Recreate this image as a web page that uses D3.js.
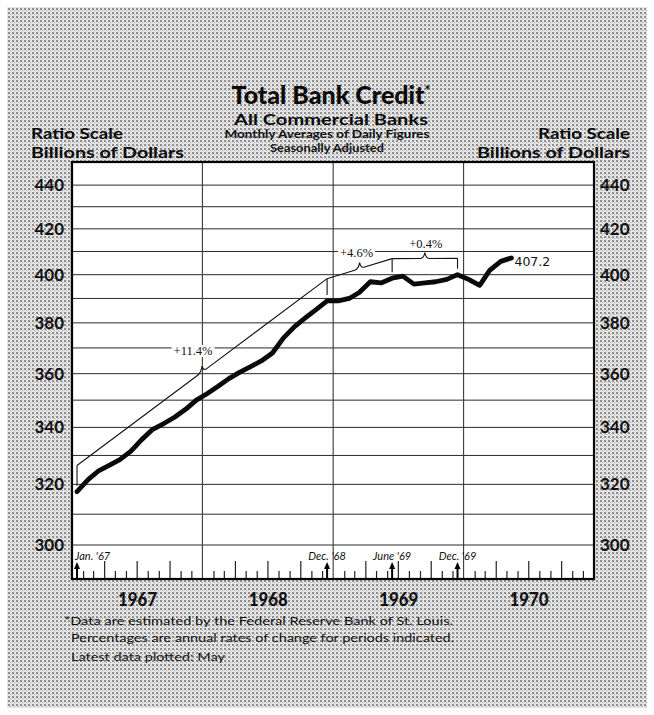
<!DOCTYPE html>
<html>
<head>
<meta charset="utf-8">
<script src="https://cdn.jsdelivr.net/npm/d3@7/dist/d3.min.js"></script>
<style>
html,body{margin:0;padding:0;background:#ffffff;}
svg{display:block;}
</style>
</head>
<body>
<svg id="chart" width="654" height="715"></svg>
<script>
// ---------------- data ----------------
const years = [1967, 1968, 1969, 1970];
const credit1967 = [317.5, 321.6, 324.5, 326.5, 328.5, 331.5, 335.6, 339.3, 341.4, 343.7, 346.6, 350.0];
const credit1968 = [352.5, 355.3, 358.1, 360.6, 362.7, 365.0, 368.0, 374.0, 378.5, 382.0, 385.5, 389.0];
const credit1969 = [389.0, 390.0, 392.5, 397.0, 396.5, 398.5, 399.4, 396.0, 396.5, 397.0, 398.0, 400.0];
const credit1970 = [398.0, 395.5, 401.8, 405.7, 407.2];

const gridValues = [300, 310, 320, 330, 340, 350, 360, 370, 380, 390, 400, 410, 420, 430, 440];
const axisTickValues = [300, 320, 340, 360, 380, 400, 420, 440];
const yearLabels = ["1967", "1968", "1969", "1970"];

const markerLabels = ["Jan. '67", "Dec. '68", "June '69", "Dec. '69"];
const markerMonths = ["1967-01", "1968-12", "1969-06", "1969-12"];

const rateLabels = ["+11.4%", "+4.6%", "+0.4%"];
const rateFrom = ["1967-01", "1968-12", "1969-06"];
const rateTo = ["1968-12", "1969-06", "1969-12"];
const rateLevelStart = [326.5, 398.3, 406.9];
const rateLevelEnd = [398.3, 406.9, 407.0];

const latestLabel = "407.2";

const titleText = "Total Bank Credit";
const titleMark = "*";
const subtitleText = "All Commercial Banks";
const noteLines = ["Monthly Averages of Daily Figures", "Seasonally Adjusted"];
const scaleLines = ["Ratio Scale", "Billions of Dollars"];
const footnotes = [
  "*Data are estimated by the Federal Reserve Bank of St. Louis.",
  "Percentages are annual rates of change for periods indicated.",
  "Latest data plotted: May"
];

// ---------------- layout ----------------
const W = 654, H = 715;
const P = {left: 72, right: 594, top: 162, bottom: 579, base: 545, max: 164};
const FONT = "Lato, 'DejaVu Sans', sans-serif";

const svg = d3.select("#chart");
const defs = svg.append("defs");
const pat = defs.append("pattern").attr("id", "ht")
  .attr("width", 4).attr("height", 4).attr("patternUnits", "userSpaceOnUse");
pat.append("rect").attr("width", 4).attr("height", 4).attr("fill", "#e4e4e4");
pat.append("rect").attr("x", 0).attr("y", 0).attr("width", 2).attr("height", 2).attr("fill", "#909090");
pat.append("rect").attr("x", 2).attr("y", 2).attr("width", 1).attr("height", 1).attr("fill", "#a8a8a8");

svg.append("rect").attr("width", W).attr("height", H).attr("fill", "#ffffff");
svg.append("rect").attr("x", 7).attr("y", 7).attr("width", 640).attr("height", 701).attr("fill", "url(#ht)");

// scales
const x = d3.scaleTime().domain([new Date(1967, 0, 1), new Date(1971, 0, 1)]).range([P.left, P.right]);
const y = d3.scaleLog().domain([300, 450]).range([P.base, P.max]);

const series = [credit1967, credit1968, credit1969, credit1970];
const data = series.flatMap((vals, k) => vals.map((v, i) => ({date: new Date(years[k], i, 15), value: v})));
const parseMonth = s => { const [yy, mm] = s.split("-").map(Number); return new Date(yy, mm - 1, 15); };
const valueAt = s => { const d = parseMonth(s); return data.find(p => +p.date === +d).value; };

// plot area
svg.append("rect").attr("x", P.left).attr("y", P.top)
  .attr("width", P.right - P.left).attr("height", P.bottom - P.top).attr("fill", "#ffffff");

// horizontal grid
svg.append("g").selectAll("line").data(gridValues).join("line")
  .attr("x1", P.left).attr("x2", P.right)
  .attr("y1", d => y(d)).attr("y2", d => y(d))
  .attr("stroke", "#2a2a2a").attr("stroke-width", 1);

// year division lines
svg.append("g").selectAll("line").data(years.slice(1)).join("line")
  .attr("x1", d => x(new Date(d, 0, 1))).attr("x2", d => x(new Date(d, 0, 1)))
  .attr("y1", P.top).attr("y2", P.bottom)
  .attr("stroke", "#3a3a3a").attr("stroke-width", 1.1);

// month ticks on bottom
const monthBounds = d3.timeMonth.range(new Date(1967, 1, 1), new Date(1971, 0, 1)).filter(d => d.getMonth() !== 0);
const shortTicks = monthBounds.filter(d => d.getMonth() % 3 !== 0);
const longTicks = monthBounds.filter(d => d.getMonth() % 3 === 0);
const gShort = svg.append("g").attr("transform", `translate(0,${P.bottom})`)
  .call(d3.axisBottom(x).tickValues(shortTicks).tickSize(-8).tickFormat(""));
const gLong = svg.append("g").attr("transform", `translate(0,${P.bottom})`)
  .call(d3.axisBottom(x).tickValues(longTicks).tickSize(-18).tickFormat(""));
[gShort, gLong].forEach(g => {
  g.select(".domain").remove();
  g.selectAll(".tick line").attr("stroke", "#222").attr("stroke-width", 1.2);
});

// year labels
const gYears = svg.append("g").attr("transform", `translate(0,${P.bottom})`)
  .call(d3.axisBottom(x).tickValues(years.map(yy => new Date(yy, 6, 2))).tickSize(0).tickPadding(13.5)
    .tickFormat((d, i) => yearLabels[i]));
gYears.select(".domain").remove();
gYears.selectAll("text").attr("font-family", FONT).attr("font-weight", 900)
  .attr("font-size", 19.5).attr("fill", "#111")
  .attr("textLength", 39).attr("lengthAdjust", "spacingAndGlyphs");

// left / right value axes
const gL = svg.append("g").attr("transform", `translate(${P.left},0)`)
  .call(d3.axisLeft(y).tickValues(axisTickValues).tickSize(0).tickPadding(8).tickFormat(d3.format("d")));
const gR = svg.append("g").attr("transform", `translate(${P.right},0)`)
  .call(d3.axisRight(y).tickValues(axisTickValues).tickSize(0).tickPadding(6).tickFormat(d3.format("d")));
[gL, gR].forEach(g => {
  g.select(".domain").remove();
  g.selectAll("text").attr("font-family", FONT).attr("font-weight", 700)
    .attr("font-size", 17).attr("fill", "#111");
});

// rate braces
const braces = rateLabels.map((lab, i) => {
  const x0 = x(parseMonth(rateFrom[i])), x1 = x(parseMonth(rateTo[i]));
  const y0 = y(rateLevelStart[i]), y1 = y(rateLevelEnd[i]);
  return {lab, x0, x1, y0, y1, from: rateFrom[i], to: rateTo[i]};
});
const labelShift = [{dx: -9, dy: -11}, {dx: -3, dy: -6}, {dx: 1, dy: -4}];
const braceLine = b => xx => b.y0 + (b.y1 - b.y0) * (xx - b.x0) / (b.x1 - b.x0);
function bracePath(b) {
  const t = braceLine(b), xm = (b.x0 + b.x1) / 2, w = 5, h = 6;
  return `M${b.x0},${b.y0} L${xm - w},${t(xm - w)} Q${xm - 1},${t(xm - 1)} ${xm},${t(xm) - h} ` +
         `Q${xm + 1},${t(xm + 1)} ${xm + w},${t(xm + w)} L${b.x1},${b.y1}`;
}

const gLab = svg.append("g");
braces.forEach((b, i) => {
  const xm = (b.x0 + b.x1) / 2, tip = braceLine(b)(xm) - 6;
  const tx = xm + labelShift[i].dx, ty = tip + labelShift[i].dy;
  const t = gLab.append("text").attr("x", tx).attr("y", ty).attr("text-anchor", "middle")
    .attr("font-family", "'Liberation Serif', serif").attr("font-size", 12.5).attr("fill", "#111").text(b.lab);
  const bb = t.node().getBBox();
  gLab.insert("rect", "text").attr("x", bb.x - 2).attr("y", bb.y + 1).attr("width", bb.width + 4)
    .attr("height", bb.height - 2).attr("fill", "#fff");
});

const gBr = svg.append("g").attr("fill", "none").attr("stroke", "#111").attr("stroke-width", 1.1);
braces.forEach(b => gBr.append("path").attr("d", bracePath(b)));
const tickMonths = Array.from(new Set(rateFrom.concat(rateTo)));
tickMonths.forEach(m => {
  const xx = x(parseMonth(m));
  const top = d3.min(braces.filter(b => b.from === m || b.to === m), b => b.from === m ? b.y0 : b.y1);
  gBr.append("line").attr("x1", xx).attr("x2", xx).attr("y1", top).attr("y2", y(valueAt(m)) - 6);
});

// data line
svg.append("path").datum(data)
  .attr("fill", "none").attr("stroke", "#0a0a0a").attr("stroke-width", 4.8)
  .attr("stroke-linejoin", "round").attr("stroke-linecap", "round")
  .attr("d", d3.line().x(d => x(d.date)).y(d => y(d.value)));

// latest value label
const last = data[data.length - 1];
svg.append("text").attr("x", x(last.date) + 3).attr("y", y(last.value) + 8.5)
  .attr("font-family", "'DejaVu Sans', sans-serif").attr("font-size", 12.5).attr("fill", "#111")
  .text(latestLabel);

// month markers (arrows + labels)
const gM = svg.append("g");
markerMonths.forEach((m, i) => {
  const xx = x(parseMonth(m));
  gM.append("line").attr("x1", xx).attr("x2", xx).attr("y1", P.bottom).attr("y2", P.bottom - 12)
    .attr("stroke", "#000").attr("stroke-width", 2);
  gM.append("path").attr("d", `M${xx - 3},${P.bottom - 10} L${xx},${P.bottom - 17} L${xx + 3},${P.bottom - 10} Z`)
    .attr("fill", "#000");
  gM.append("text").attr("x", i === 0 ? xx - 2 : xx).attr("y", 560)
    .attr("text-anchor", i === 0 ? "start" : "middle")
    .attr("font-family", FONT).attr("font-style", "italic").attr("font-size", 11).attr("fill", "#111")
    .text(markerLabels[i]);
});

// plot frame
svg.append("rect").attr("x", P.left).attr("y", P.top)
  .attr("width", P.right - P.left).attr("height", P.bottom - P.top)
  .attr("fill", "none").attr("stroke", "#000").attr("stroke-width", 2.2);

// headings
const cx = 331;
const title = svg.append("text").attr("x", cx).attr("y", 104).attr("text-anchor", "middle")
  .attr("font-family", FONT).attr("font-weight", 900).attr("font-size", 25).attr("fill", "#0a0a0a");
title.append("tspan").text(titleText);
title.append("tspan").attr("font-size", 14).attr("dy", -9).text(titleMark);

svg.append("text").attr("x", cx).attr("y", 125).attr("text-anchor", "middle")
  .attr("font-family", FONT).attr("font-weight", 700).attr("font-size", 16).attr("fill", "#0a0a0a")
  .attr("textLength", 194).attr("lengthAdjust", "spacingAndGlyphs").text(subtitleText);

svg.append("text").attr("x", 327).attr("y", 138).attr("text-anchor", "middle")
  .attr("font-family", FONT).attr("font-weight", 700).attr("font-size", 10.5).attr("fill", "#111")
  .attr("textLength", 205).attr("lengthAdjust", "spacingAndGlyphs").text(noteLines[0]);
svg.append("text").attr("x", 327).attr("y", 152).attr("text-anchor", "middle")
  .attr("font-family", FONT).attr("font-weight", 700).attr("font-size", 10.5).attr("fill", "#111")
  .attr("textLength", 114).attr("lengthAdjust", "spacingAndGlyphs").text(noteLines[1]);

const scaleW = [92, 153];
const scaleY = [138.5, 157.5];
scaleLines.forEach((s, i) => {
  svg.append("text").attr("x", 31).attr("y", scaleY[i])
    .attr("font-family", FONT).attr("font-weight", 700).attr("font-size", 15.5).attr("fill", "#0a0a0a")
    .attr("textLength", scaleW[i]).attr("lengthAdjust", "spacingAndGlyphs").text(s);
  svg.append("text").attr("x", 630 - scaleW[i]).attr("y", scaleY[i])
    .attr("font-family", FONT).attr("font-weight", 700).attr("font-size", 15.5).attr("fill", "#0a0a0a")
    .attr("textLength", scaleW[i]).attr("lengthAdjust", "spacingAndGlyphs").text(s);
});

// footnotes
const fnX = [64, 71, 71], fnY = [625, 642, 661], fnW = [389, 383, 154];
footnotes.forEach((f, i) => {
  svg.append("text").attr("x", fnX[i]).attr("y", fnY[i])
    .attr("font-family", FONT).attr("font-weight", 400).attr("font-size", 11.5).attr("fill", "#111")
    .attr("textLength", fnW[i]).attr("lengthAdjust", "spacingAndGlyphs").text(f);
});
</script>
</body>
</html>
